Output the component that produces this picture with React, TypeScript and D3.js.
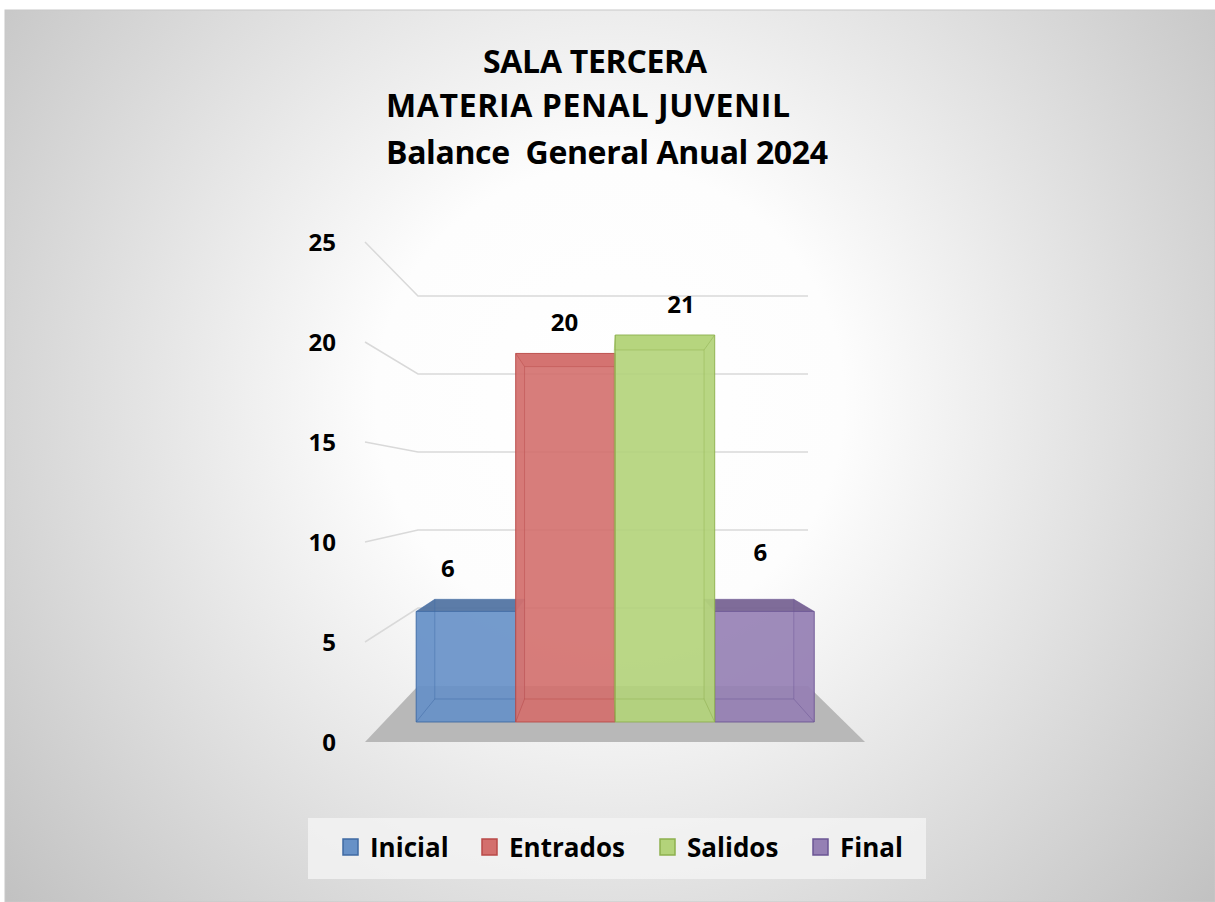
import React from "react";
import * as d3 from "d3";

const titleLines = ["SALA TERCERA", "MATERIA PENAL JUVENIL", "Balance  General Anual 2024"];
const seriesNames = ["Inicial", "Entrados", "Salidos", "Final"];
const seriesValues = [6, 20, 21, 6];
const seriesFill = ["#6791c7", "#d36f6d", "#b3d37a", "#9580b4"];
const seriesTop = ["#4f71a0", "#db7f7d", "#c8e28e", "#745f90"];
const seriesEdge = ["#3f6aa3", "#b94a48", "#8db04e", "#6b5594"];
const yTicks = [0, 5, 10, 15, 20, 25];

const W = 1215;
const H = 902;
const FONT = "'Open Sans', Lato, 'Liberation Sans', sans-serif";

// layout styling (not data)
const titleLayout = [
  { x: 595, y: 73, len: 224 },
  { x: 588, y: 117, len: 404 },
  { x: 607, y: 164, len: 442 },
];
const labelNudge = [
  { dx: -18, dy: 0 },
  { dx: -1, dy: 0 },
  { dx: 16, dy: 0 },
  { dx: -4, dy: -16 },
];

export default function App() {
  const y = d3.scaleLinear().domain([0, 25]).range([742, 242]);
  const xFloor = [365, 865];
  const band = d3.scaleBand<string>().domain(seriesNames).range([400, 832]).padding(0);
  const sFront = 1, sBack = 0.78;
  const sBarFront = 0.9214, sBarBack = 0.831;
  const vx = 605.9, vy = 487.5;
  const P = (X: number, Y: number, s: number): [number, number] => [vx + (X - vx) * s, vy + (Y - vy) * s];
  const pts = (arr: [number, number][]) => arr.map((p) => p.join(",")).join(" ");

  const floor = [P(xFloor[0], y(0), sFront), P(xFloor[1], y(0), sFront), P(xFloor[1], y(0), sBack), P(xFloor[0], y(0), sBack)];
  const order = [0, 3, 1, 2];

  return (
    <svg width={W} height={H} style={{ position: "absolute", left: 0, top: 0 }} xmlns="http://www.w3.org/2000/svg">
      <defs>
        <radialGradient id="bg" cx="610" cy="400" r="780" gradientUnits="userSpaceOnUse">
          <stop offset="0" stopColor="#ffffff" />
          <stop offset="0.3" stopColor="#fdfdfd" />
          <stop offset="1" stopColor="#c2c2c2" />
        </radialGradient>
      </defs>
      <rect x={0} y={0} width={W} height={H} fill="#ffffff" />
      <rect x={5} y={10} width={W - 5} height={H - 10} fill="url(#bg)" stroke="#c8c8c8" strokeWidth={1} />

      {titleLines.map((t, i) => (
        <text
          key={t}
          x={titleLayout[i].x}
          y={titleLayout[i].y}
          textAnchor="middle"
          fontFamily={FONT}
          fontWeight="bold"
          fontSize={32}
          textLength={titleLayout[i].len}
          lengthAdjust="spacing"
          fill="#000"
          style={{ whiteSpace: "pre" }}
          xmlSpace="preserve"
        >
          {t}
        </text>
      ))}

      <polygon points={pts(floor)} fill="#b8b8b8" />

      {yTicks.filter((v) => v > 0).map((v) => {
        const a = P(xFloor[0], y(v), sFront);
        const b = P(xFloor[0], y(v), sBack);
        const c = P(xFloor[1], y(v), sBack);
        return <polyline key={v} points={pts([a, b, c])} fill="none" stroke="#d9d9d9" strokeWidth={1.5} />;
      })}

      {yTicks.map((v) => (
        <text key={v} x={336} y={y(v) + 9} textAnchor="end" fontFamily={FONT} fontWeight="bold" fontSize={24} fill="#000">
          {v}
        </text>
      ))}

      {order.map((i) => {
        const name = seriesNames[i];
        const x0 = band(name)!;
        const x1 = x0 + band.bandwidth();
        const yb = y(0);
        const yt = y(seriesValues[i]);
        const fbl = P(x0, yb, sBarFront), fbr = P(x1, yb, sBarFront), ftl = P(x0, yt, sBarFront), ftr = P(x1, yt, sBarFront);
        const bbl = P(x0, yb, sBarBack), bbr = P(x1, yb, sBarBack), btl = P(x0, yt, sBarBack), btr = P(x1, yt, sBarBack);
        const top = [ftl, ftr, btr, btl];
        const left = [fbl, ftl, btl, bbl];
        const right = [fbr, ftr, btr, bbr];
        const bottom = [fbl, fbr, bbr, bbl];
        return (
          <g key={name}>
            <polygon points={pts(bottom)} fill={seriesFill[i]} fillOpacity={0.35} />
            <polygon points={pts([bbl, bbr, btr, btl])} fill={seriesFill[i]} fillOpacity={0.25} />
            <polygon points={pts(left)} fill={seriesFill[i]} fillOpacity={0.45} />
            <polygon points={pts(right)} fill={seriesFill[i]} fillOpacity={0.45} />
            <polygon points={pts(top)} fill={seriesTop[i]} fillOpacity={0.9} />
            <polygon points={pts([fbl, fbr, ftr, ftl])} fill={seriesFill[i]} fillOpacity={0.88} />
            <polyline points={pts([bbl, btl, btr, bbr])} fill="none" stroke={seriesEdge[i]} strokeOpacity={0.45} strokeWidth={1} />
            <line x1={bbl[0]} y1={bbl[1]} x2={bbr[0]} y2={bbr[1]} stroke={seriesEdge[i]} strokeOpacity={0.45} />
            {[[fbl, bbl], [fbr, bbr], [ftl, btl], [ftr, btr]].map((e, k) => (
              <line key={k} x1={e[0][0]} y1={e[0][1]} x2={e[1][0]} y2={e[1][1]} stroke={seriesEdge[i]} strokeOpacity={0.5} />
            ))}
            <polygon points={pts([fbl, fbr, ftr, ftl])} fill="none" stroke={seriesEdge[i]} strokeOpacity={0.9} strokeWidth={1} />
          </g>
        );
      })}

      {seriesNames.map((name, i) => {
        const x0 = band(name)!;
        const xc = x0 + band.bandwidth() / 2;
        const yt = y(seriesValues[i]);
        const ft = P(xc, yt, sBarFront);
        const bt = P(xc, yt, sBarBack);
        const topY = Math.min(ft[1], bt[1]);
        return (
          <text key={name} x={ft[0] + labelNudge[i].dx} y={topY - 22 + labelNudge[i].dy} textAnchor="middle" fontFamily={FONT} fontWeight="bold" fontSize={24} fill="#000">
            {seriesValues[i]}
          </text>
        );
      })}

      <rect x={308} y={818} width={618} height={61} fill="#f4f4f4" fillOpacity={0.8} />
      {seriesNames.map((name, i) => {
        const lx = [343, 482, 660, 813][i];
        return (
          <g key={name}>
            <rect x={lx} y={839} width={15} height={16} fill={seriesFill[i]} stroke={seriesEdge[i]} strokeWidth={1.5} />
            <text x={lx + 27} y={857} fontFamily={FONT} fontWeight="bold" fontSize={26} fill="#000">
              {name}
            </text>
          </g>
        );
      })}
    </svg>
  );
}
